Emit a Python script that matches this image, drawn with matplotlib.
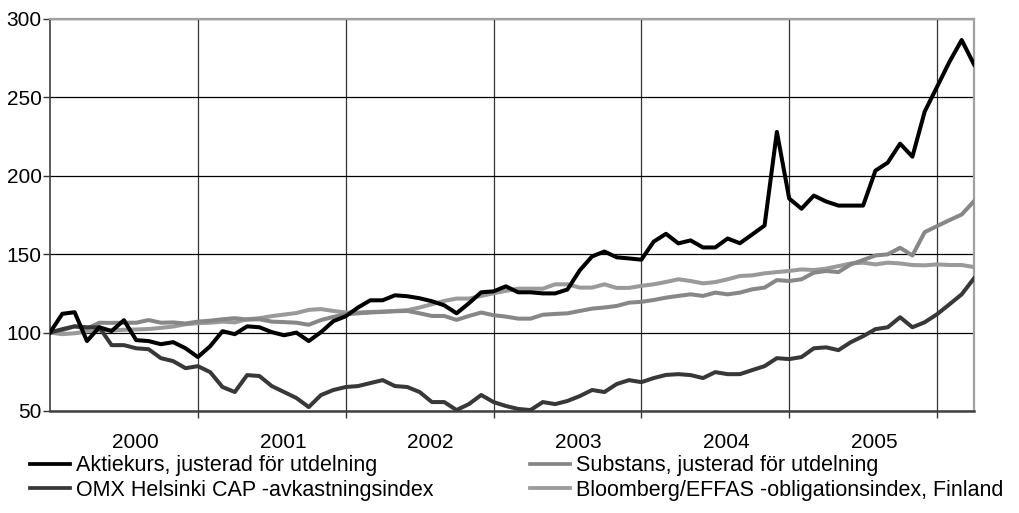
import matplotlib
matplotlib.use("Agg")
import matplotlib.pyplot as plt
import numpy as np

years = ["2000", "2001", "2002", "2003", "2004", "2005"]

aktiekurs = [100, 112, 113, 94.6, 103.4, 101, 107.9, 95.2, 94.6, 92.6, 93.9, 90,
             84.4, 91.3, 100.9, 99, 104, 103.4, 100.3, 98.3, 100, 94.6, 100.3, 107.3,
             110.4, 116, 120.6, 120.6, 123.8, 123.2, 121.9, 120, 117.4, 112.3, 118.7, 125.7,
             126.3, 129.5, 125.7, 125.7, 125, 125, 127.5, 139.7, 148.6, 151.7, 148, 147.3,
             146.5, 158, 163, 156.9, 158.8, 154.3, 154.3, 160, 157, 162.6, 168.3, 228,
             185.5, 179, 187.4, 183.6, 181, 181, 181, 203.3, 208.4, 220.5, 212.2, 241,
             256.7, 272.6, 286.6, 271]

omx = [100, 102.2, 104, 103.4, 103.4, 92, 92, 90, 89.4, 83.7, 81.8, 77.3,
       78.6, 74.8, 65.3, 62.1, 72.9, 72.3, 65.9, 62.1, 58.3, 52.5, 60.2, 63.4,
       65.3, 65.9, 67.8, 69.7, 65.9, 65.3, 62.1, 55.7, 55.7, 50.6, 54.4, 60.2,
       55.7, 53.2, 51.3, 50.6, 55.7, 54.4, 56.4, 59.5, 63.4, 62.1, 67.2, 69.7,
       68.4, 71, 73, 73.5, 72.9, 71, 74.8, 73.5, 73.5, 76.1, 78.6, 83.7,
       83.1, 84.4, 90, 90.6, 88.8, 93.9, 97.7, 102.2, 103.4, 109.8, 103.4, 106.6,
       111.7, 118, 124.4, 134.6]

substans = [100, 101.5, 104, 102.5, 106.3, 106.2, 106.3, 106.3, 108, 106.3, 106.5, 105.8,
            107, 107.6, 108.5, 109.2, 108.3, 108.5, 107, 106.7, 106.3, 105, 108, 110,
            111.7, 112.3, 112.8, 113.2, 113.6, 113.8, 112.3, 110.6, 110.6, 108.1, 110.6, 112.8,
            111.1, 110.2, 108.9, 108.9, 111.4, 111.9, 112.3, 113.8, 115.3, 116, 117, 119.1,
            119.6, 120.8, 122.3, 123.4, 124.4, 123.4, 125.5, 124.4, 125.5, 127.6, 128.7, 133.5,
            132.9, 134, 138.2, 139.3, 138.6, 143.5, 146.3, 149.2, 149.9, 154.1, 149.2, 164.1,
            167.9, 171.7, 175.3, 183.8]

bloomberg = [100, 99, 99.6, 100.8, 101.2, 101.4, 101.8, 102, 102.3, 103, 103.9, 105.3,
             106, 106.3, 107, 106.5, 108.5, 109.2, 110.5, 111.5, 112.5, 114.5, 115, 113.8,
             112.8, 112.8, 113.2, 113.4, 113.8, 114.3, 116, 118.1, 120.2, 121.7, 121.7, 123.4,
             125.1, 126.6, 128, 128, 128, 130.8, 130.8, 128.7, 128.7, 130.8, 128.5, 128.5,
             129.8, 130.8, 132.3, 134, 132.9, 131.4, 132.2, 134, 136.1, 136.5, 137.8, 138.6,
             139.3, 140.3, 139.9, 140.8, 142.4, 144.1, 144.6, 143.5, 144.6, 144.1, 143.1, 142.9,
             143.5, 143.1, 143.1, 141.8]

labels = ["Aktiekurs, justerad för utdelning",
          "OMX Helsinki CAP -avkastningsindex",
          "Substans, justerad för utdelning",
          "Bloomberg/EFFAS -obligationsindex, Finland"]

plt.rcParams['font.family'] = ['Liberation Sans', 'DejaVu Sans']

W, H = 1019, 513
fig = plt.figure(figsize=(W / 100, H / 100), dpi=100)
ax = fig.add_axes([50 / W, 1 - 411 / H, 924 / W, 392 / H])

x = np.arange(len(aktiekurs))
lw = 2.9
l2, = ax.plot(x, bloomberg, color="#9a9a9a", lw=lw, zorder=3)
l3, = ax.plot(x, substans, color="#878787", lw=lw, zorder=4)
l4, = ax.plot(x, omx, color="#383838", lw=lw, zorder=5)
l1, = ax.plot(x, aktiekurs, color="#000000", lw=lw, zorder=6)

ax.set_xlim(0, len(aktiekurs) - 1)
ax.set_ylim(50, 300)
ax.set_yticks([50, 100, 150, 200, 250, 300])

major = np.arange(12, len(aktiekurs), 12)
ax.set_xticks(major)
ax.set_xticklabels([])
ax.set_xticks(np.arange(len(years)) * 12 + 6.9, minor=True)
ax.set_xticklabels(years, minor=True)

ax.tick_params(axis='x', which='major', direction='out', length=5, width=1, color='#333333')
ax.tick_params(axis='x', which='minor', length=0, pad=16, labelsize=15)
ax.tick_params(axis='y', direction='out', length=5, width=1, color='#333333', pad=1, labelsize=15)

ax.yaxis.grid(True, color='#000000', lw=0.9)
ax.xaxis.grid(True, which='major', color='#333333', lw=0.9)
ax.set_axisbelow(True)

for s in ['top', 'right']:
    ax.spines[s].set_color('#a0a0a0')
    ax.spines[s].set_linewidth(1.6)
ax.spines['left'].set_color('#404040')
ax.spines['left'].set_linewidth(1.2)
ax.spines['bottom'].set_color('#404040')
ax.spines['bottom'].set_linewidth(1.8)

leg = fig.legend([l1, l4, l3, l2], labels, ncol=2, loc='center left',
                 bbox_to_anchor=(30 / W, 1 - 478 / H), frameon=False,
                 fontsize=15.5, handlelength=1.85, handletextpad=0.28,
                 columnspacing=4.5, labelspacing=0.15, borderpad=0, borderaxespad=0)
for h in leg.legend_handles:
    h.set_linewidth(2.7)

fig.savefig("out.png", dpi=100)
